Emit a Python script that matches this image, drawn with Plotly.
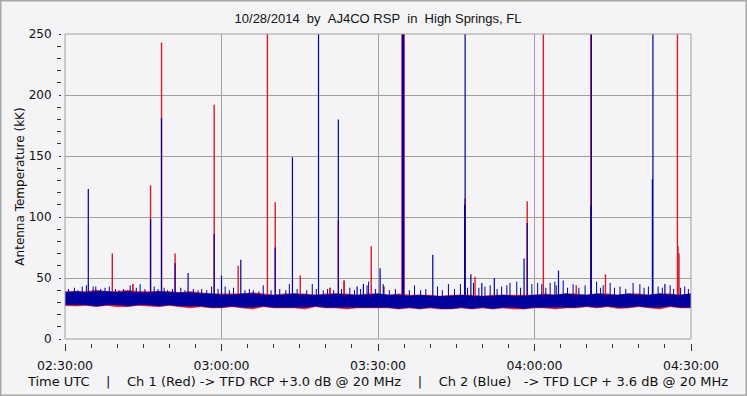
import plotly.graph_objects as go
import pandas as pd

DAY = "2014-10-28 "

# ---------------- data ----------------
# noise band envelope, one value every 2 minutes from 02:30 to 04:30
env_start = "02:30:00"
env_step_min = 2
blue_upper = [38, 39, 38, 39, 39, 38, 39, 38, 38, 39, 38,
              38, 38, 37, 37, 36, 36, 37, 37, 36, 36,
              36, 37, 36, 36, 36, 37, 36, 36, 36, 37,
              36, 36, 35, 36, 35, 35, 35, 36, 35, 35,
              35, 36, 35, 35, 36, 36, 36, 37, 36, 36,
              37, 36, 36, 37, 36, 36, 37, 36, 36, 37]
blue_lower = [28, 28, 28, 27, 28, 28, 27, 28, 28, 27, 28,
              27, 27, 27, 26, 26, 27, 26, 26, 27, 26,
              26, 26, 26, 27, 26, 26, 26, 26, 26, 26,
              26, 25, 26, 25, 26, 25, 25, 26, 25, 26,
              25, 26, 26, 25, 26, 26, 26, 26, 26, 27,
              26, 27, 26, 26, 27, 26, 26, 27, 26, 26]
red_upper = [39, 39, 39, 40, 39, 39, 40, 39, 39, 39, 39,
             38, 39, 38, 37, 37, 37, 37, 38, 37, 36,
             37, 37, 37, 36, 37, 37, 37, 36, 37, 37,
             36, 37, 36, 36, 36, 35, 36, 36, 36, 35,
             36, 36, 36, 36, 36, 37, 36, 37, 37, 36,
             37, 37, 36, 37, 37, 36, 37, 37, 36, 37]
red_lower = [27.5, 27, 27.5, 26.5, 27.5, 26.5, 26.5, 27.5, 27, 26.5, 27.5,
             26.5, 25.5, 26.5, 25.5, 25.5, 26.5, 25.5, 24.5, 26.5, 25.5,
             25.5, 25.5, 24.5, 26.5, 25.5, 25.5, 24.5, 25.5, 25.5, 25.5,
             25.5, 24.5, 25.5, 24.5, 25.5, 24.5, 24.5, 25.5, 24.5, 25.5,
             24.5, 25.5, 24.5, 24.5, 25.5, 25.5, 24.5, 25.5, 25.5, 26.5,
             25.5, 26.5, 25, 25.5, 26.5, 25.5, 24.5, 26.5, 25.5, 25.5]

# spikes (UTC time, peak in kK); values above 250 run off the top
red_spike_times = ["02:39:04", "02:43:00", "02:46:24", "02:48:30", "02:51:06",
                   "02:58:36", "03:03:12", "03:08:48", "03:10:18", "03:15:06",
                   "03:20:48", "03:22:24", "03:23:30", "03:28:42", "03:31:06",
                   "03:34:36", "03:34:48", "03:35:00", "03:46:42", "03:48:36",
                   "03:58:36", "04:01:42", "04:10:48", "04:13:36", "04:27:24",
                   "04:27:30", "04:27:42"]
red_spike_peaks = [70, 45, 126, 243, 70,
                   192, 60, 300, 112, 52,
                   42, 97, 48, 76, 43,
                   300, 300, 300, 115, 51,
                   113, 300, 300, 53, 300,
                   76, 70]

blue_spike_times = ["02:34:28", "02:46:24", "02:48:30", "02:51:06", "02:53:36",
                    "02:58:36", "03:00:00", "03:03:42", "03:10:18", "03:13:36",
                    "03:18:36", "03:22:24", "03:26:00", "03:27:12", "03:30:24",
                    "03:34:42", "03:34:54", "03:40:30", "03:46:36", "03:46:42",
                    "03:47:48", "03:49:54", "03:52:18", "03:58:00", "03:58:36",
                    "04:04:36", "04:10:48", "04:10:54", "04:22:36", "04:22:42",
                    "04:25:00"]
blue_spike_peaks = [123, 98, 181, 62, 54,
                    86, 52, 65, 75, 149,
                    300, 180, 43, 45, 58,
                    300, 300, 69, 110, 300,
                    53, 46, 50, 66, 95,
                    56, 109, 300, 131, 300,
                    45]

# small noise spikes poking out of the band (blue)
blue_small_times = [
    "02:30:40", "02:31:48", "02:32:30", "02:33:18", "02:34:06", "02:35:24", "02:35:54", "02:36:50", "02:37:40", "02:38:30",
    "02:39:40", "02:40:20", "02:41:12", "02:42:30", "02:43:40", "02:44:24", "02:45:20", "02:47:06", "02:47:50", "02:49:00",
    "02:49:40", "02:50:36", "02:52:12", "02:53:00", "02:54:36", "02:55:30", "02:56:12", "02:57:10", "02:58:06", "02:59:20",
    "03:00:42", "03:01:30", "03:02:18", "03:04:30", "03:05:20", "03:06:06", "03:07:10", "03:08:00", "03:09:30", "03:11:10",
    "03:12:20", "03:13:00", "03:14:30", "03:16:20", "03:17:24", "03:18:10", "03:19:30", "03:20:20", "03:21:30", "03:23:00",
    "03:24:36", "03:25:30", "03:26:40", "03:27:54", "03:28:12", "03:29:30", "03:31:00", "03:32:10", "03:33:20", "03:36:00",
    "03:37:00", "03:38:10", "03:39:10", "03:41:24", "03:42:20", "03:43:30", "03:44:40", "03:45:48", "03:47:10", "03:48:18",
    "03:49:20", "03:50:30", "03:51:30", "03:52:50", "03:53:42", "03:54:42", "03:55:18", "03:56:36", "03:57:20", "03:59:30",
    "04:00:36", "04:01:24", "04:02:10", "04:03:00", "04:03:54", "04:04:10", "04:05:30", "04:06:20", "04:07:24", "04:08:30",
    "04:09:42", "04:11:54", "04:12:40", "04:13:10", "04:14:30", "04:15:20", "04:16:24", "04:17:30", "04:18:54", "04:20:12",
    "04:21:00", "04:21:50", "04:23:42", "04:24:30", "04:26:00", "04:26:40", "04:28:00", "04:28:48", "04:29:30"]
blue_small_peaks = [
    41, 42, 40, 43, 44, 43, 43, 41, 42, 43,
    41, 40, 41, 44, 42, 45, 41, 43, 41, 42,
    40, 41, 42, 40, 41, 40, 41, 40, 43, 41,
    43, 40, 42, 40, 41, 40, 39, 44, 40, 41,
    40, 45, 41, 40, 45, 41, 40, 41, 40, 41,
    42, 40, 41, 44, 47, 41, 45, 40, 41, 40,
    44, 40, 41, 43, 40, 45, 41, 45, 42, 46,
    42, 43, 44, 41, 43, 44, 46, 47, 42, 45,
    46, 45, 42, 46, 47, 44, 48, 42, 45, 42,
    44, 47, 42, 44, 46, 42, 43, 41, 46, 45,
    42, 43, 43, 42, 44, 41, 42, 43, 41]
red_small_times = ["02:43:00", "03:20:48", "03:23:30", "03:31:06", "04:08:00"]
red_small_peaks = [45, 42, 48, 43, 44]

SPIKE_BASE = 30
RED = "#d81a2a"
BLUE = "#00009c"

# ---------------- build figure ----------------
env_times = pd.date_range(DAY + env_start, periods=len(blue_upper),
                          freq=f"{env_step_min}min")


def band(upper, lower):
    xs = list(env_times) + list(env_times[::-1])
    ys = list(upper) + list(lower[::-1])
    return xs, ys


def spikes(times, peaks):
    xs, ys = [], []
    for t, p in zip(times, peaks):
        xs += [DAY + t, DAY + t, None]
        ys += [SPIKE_BASE, p, None]
    return xs, ys


fig = go.Figure()

x, y = band(red_upper, red_lower)
fig.add_trace(go.Scatter(x=x, y=y, fill="toself", fillcolor=RED, mode="lines",
                         line=dict(width=0.5, color=RED), hoverinfo="skip"))
x, y = spikes(red_small_times, red_small_peaks)
fig.add_trace(go.Scatter(x=x, y=y, mode="lines", line=dict(width=1.4, color=RED)))
x, y = spikes(red_spike_times, red_spike_peaks)
fig.add_trace(go.Scatter(x=x, y=y, mode="lines", line=dict(width=1.4, color=RED)))

x, y = band(blue_upper, blue_lower)
fig.add_trace(go.Scatter(x=x, y=y, fill="toself", fillcolor=BLUE, mode="lines",
                         line=dict(width=0.5, color=BLUE), hoverinfo="skip"))
x, y = spikes(blue_small_times, blue_small_peaks)
fig.add_trace(go.Scatter(x=x, y=y, mode="lines", line=dict(width=1, color=BLUE)))
x, y = spikes(blue_spike_times, blue_spike_peaks)
fig.add_trace(go.Scatter(x=x, y=y, mode="lines", line=dict(width=1.2, color=BLUE)))

W, H = 747, 396
ML, MR, MT, MB = 61, 56, 34, 53
PW, PH = W - ML - MR, H - MT - MB
GAP = 4
BG = "#f4f4f6"
GRID = "#a0a0a0"
TICK = "#333333"
NB = "\u00a0"

title = f"10/28/2014{NB*2}by{NB*2}AJ4CO RSP{NB*2}in{NB*2}High Springs, FL"
xtitle = (f"Time UTC{NB*4}|{NB*4}Ch 1 (Red) -> TFD RCP +3.0 dB @ 20 MHz"
          f"{NB*4}|{NB*4}Ch 2 (Blue){NB*3}-> TFD LCP + 3.6 dB @ 20 MHz")

fig.update_layout(
    width=W, height=H,
    margin=dict(l=ML, r=MR, t=MT, b=MB, pad=0, autoexpand=False),
    paper_bgcolor=BG, plot_bgcolor=BG,
    showlegend=False,
    font=dict(family="DejaVu Sans", size=12, color="#111111"),
    title=dict(text=title, x=(GAP / PW + 1) / 2, xref="paper", xanchor="center",
               y=1 - 18 / H, yanchor="middle",
               font=dict(family="Liberation Sans", size=13, color="#111111")),
    xaxis=dict(
        type="date",
        domain=[GAP / PW, 1],
        anchor="free", position=0,
        range=[DAY + "02:30:00", DAY + "04:30:00"],
        tick0=DAY + "02:30:00", dtick=30 * 60 * 1000,
        tickformat="%H:%M:%S",
        ticks="outside", ticklen=7, tickcolor=TICK, tickwidth=1,
        ticklabelstandoff=4,
        minor=dict(dtick=5 * 60 * 1000, ticks="outside", ticklen=4,
                   tickcolor=TICK, showgrid=False),
        showgrid=True, gridcolor=GRID, gridwidth=1,
        zeroline=False, showline=False, automargin=False,
        tickfont=dict(family="DejaVu Sans", size=12.5),
        title=dict(text=xtitle, standoff=4,
                   font=dict(family="DejaVu Sans", size=13)),
    ),
    yaxis=dict(
        domain=[GAP / PH, 1],
        anchor="free", position=0,
        range=[0, 250], dtick=50,
        ticks="outside", ticklen=2, tickcolor=TICK, tickwidth=1,
        ticklabelstandoff=5,
        minor=dict(dtick=10, ticks="outside", ticklen=4, tickcolor=TICK,
                   showgrid=False),
        showgrid=True, gridcolor=GRID, gridwidth=1,
        zeroline=False, showline=False, automargin=False,
        tickfont=dict(family="DejaVu Sans", size=12),
        title=dict(text="Antenna Temperature (kK)", standoff=0,
                   font=dict(family="DejaVu Sans", size=12)),
    ),
    shapes=[
        dict(type="rect", xref="x domain", yref="y domain", x0=0, x1=1, y0=0, y1=1,
             line=dict(color=GRID, width=1), layer="above"),
        dict(type="rect", xref="paper", yref="paper",
             x0=-(ML - 0.75) / PW, x1=1 + (MR - 0.75) / PW,
             y0=-(MB - 0.75) / PH, y1=1 + (MT - 0.75) / PH,
             line=dict(color="#a8a8a8", width=1.5), layer="above"),
    ],
)

fig.write_html(
    "out.html",
    config={"displayModeBar": False},
    post_script=(
        "document.body.style.margin='0';"
        "document.body.style.padding='0';"
    ),
)
